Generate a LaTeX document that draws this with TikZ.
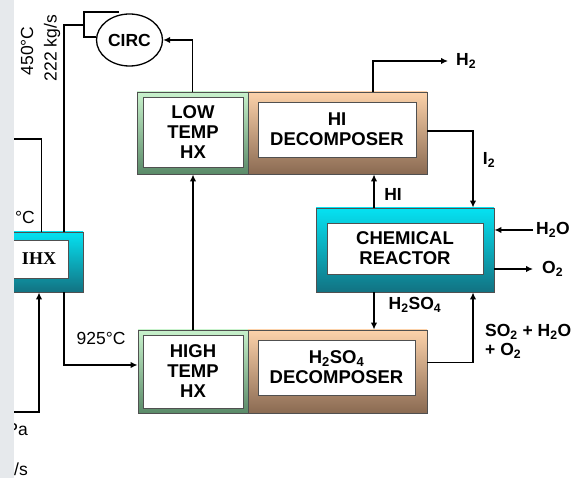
\documentclass[tikz,border=0pt]{standalone}
\usepackage{fontspec}
\setmainfont{Liberation Sans}
\newfontfamily\timesfont{Liberation Serif}
\usetikzlibrary{arrows.meta,shapes.geometric}

\definecolor{greentop}{HTML}{C8F2CC}
\definecolor{greenbot}{HTML}{5A8A68}
\definecolor{tantop}{HTML}{FCD2AA}
\definecolor{tanbot}{HTML}{8A6A52}
\definecolor{cyantop}{HTML}{05E2F2}
\definecolor{cyanbot}{HTML}{127282}
\definecolor{edgegray}{HTML}{505050}
\definecolor{stripgray}{HTML}{E6E9EC}

\begin{document}
\begin{tikzpicture}[x=1pt, y=-1pt,
    shell/.style={draw=edgegray, line width=0.8pt, inner sep=0pt, top color=#1top, bottom color=#1bot},
    core/.style={draw=edgegray, line width=0.6pt, fill=white, inner sep=0pt, align=center, font=\fontsize{18.5}{20}\selectfont\bfseries},
    lbl/.style={font=\fontsize{17.5}{19}\selectfont\bfseries, inner sep=1pt},
    txt/.style={font=\fontsize{17.5}{19}\selectfont, inner sep=1pt},
    pipe/.style={line width=1.8pt},
    arr/.style={-{Latex[length=7pt,width=6.5pt]}, line width=1.8pt}
]
\useasboundingbox (0,0) rectangle (571,478);

% outer shells
\node[shell=green, minimum width=111, minimum height=82] (lowhx) at (192.5,133) {};
\node[shell=tan, minimum width=179, minimum height=82] (hidec) at (337.5,133) {};
\node[shell=green, minimum width=110, minimum height=83] (highhx) at (193,371.5) {};
\node[shell=tan, minimum width=179, minimum height=83] (sodec) at (337.5,371.5) {};
\node[shell=cyan, minimum width=178, minimum height=84] (reactor) at (405,250) {};
\node[shell=cyan, minimum width=83, minimum height=60] (ihx) at (41.5,262) {};

% white cores
\node[core, minimum width=100, minimum height=70] (lowcore) at (193,132) {LOW\\TEMP\\HX};
\node[core, minimum width=158, minimum height=55] (hicore) at (337,129.5) {HI\\DECOMPOSER};
\node[core, minimum width=100, minimum height=73] (highcore) at (193,371.5) {HIGH\\TEMP\\HX};
\node[core, minimum width=157, minimum height=55] (socore) at (336.5,367.5) {H\textsubscript{2}SO\textsubscript{4}\\DECOMPOSER};
\node[core, minimum width=156, minimum height=51] (reactcore) at (405,248.5) {CHEMICAL\\REACTOR};
\node[core, minimum width=58, minimum height=38, font=\fontsize{18}{19}\selectfont\timesfont\bfseries] (ihxcore) at (39,259) {IHX};

% circulator
\node[draw, ellipse, line width=1.3pt, minimum width=66, minimum height=52, inner sep=0pt, font=\fontsize{17.5}{19}\selectfont\bfseries] (circ) at (129.5,40) {CIRC};
\coordinate (bk) at (84,25);
\draw[pipe] ([yshift=3pt]circ.west) -| (84,12) -- (119,12);

% labels
\node[lbl, anchor=west, inner xsep=8pt] (h2) at (448,61) {H\textsubscript{2}};
\node[lbl] (hi) at (393,194) {HI};
\node[lbl] (i2) at (489,160) {I\textsubscript{2}};
\node[lbl] (h2so4) at (415,305) {H\textsubscript{2}SO\textsubscript{4}};
\node[lbl, anchor=west, inner xsep=3pt] (h2o) at (533,230) {H\textsubscript{2}O};
\node[lbl, anchor=west, inner xsep=9pt] (o2) at (533,269) {O\textsubscript{2}};
\node[lbl, anchor=north west, align=left] (so2) at (484,323) {SO\textsubscript{2} + H\textsubscript{2}O\\+ O\textsubscript{2}};
\node[txt] (t925) at (101,338) {925°C};
\node[txt, rotate=90] (t450) at (27,51) {450°C};
\node[txt, rotate=90] (t222) at (52,48) {222 kg/s};
\node[txt, anchor=east] (tdeg) at (36,217) {°C};
\node[txt, anchor=east] (tpa) at (29,430) {Pa};
\node[txt, anchor=east] (ts) at (29,469) {/s};

% helium loop
\coordinate (coldin) at (14,139);
\coordinate (botin) at (14,412);
\draw[pipe] ([xshift=22.5pt]ihx.north) |- (bk);
\draw[pipe] (coldin) -| (ihx.north);
\draw[arr] (botin) -| ([xshift=-2.5pt]ihx.south);
\draw[arr] ([xshift=22.5pt]ihx.south) |- ([yshift=6.5pt]highhx.west);
\draw[arr] (highhx.north) -- (highhx.north |- lowhx.south);
\draw[arr] (lowhx.north) |- (circ.east);

% process streams
\draw[arr] ([xshift=35.5pt]hidec.north) |- (h2.west);
\draw[arr] ([yshift=2pt]hidec.east) -| ([xshift=68pt]reactor.north);
\draw[arr] ([xshift=-31pt]reactor.north) -- ([xshift=-31pt]reactor.north |- hidec.south);
\draw[arr] ([xshift=-31pt]reactor.south) -- ([xshift=-31pt]reactor.south |- sodec.north);
\draw[arr] ([yshift=9pt]sodec.east) -| ([xshift=68pt]reactor.south);
\draw[arr] (h2o.west) -- (reactor.east |- h2o.west);
\draw[arr] (reactor.east |- o2.west) -- (o2.west);

% cut edge
\fill[stripgray] (0,0) rectangle (14,478);
\end{tikzpicture}
\end{document}
